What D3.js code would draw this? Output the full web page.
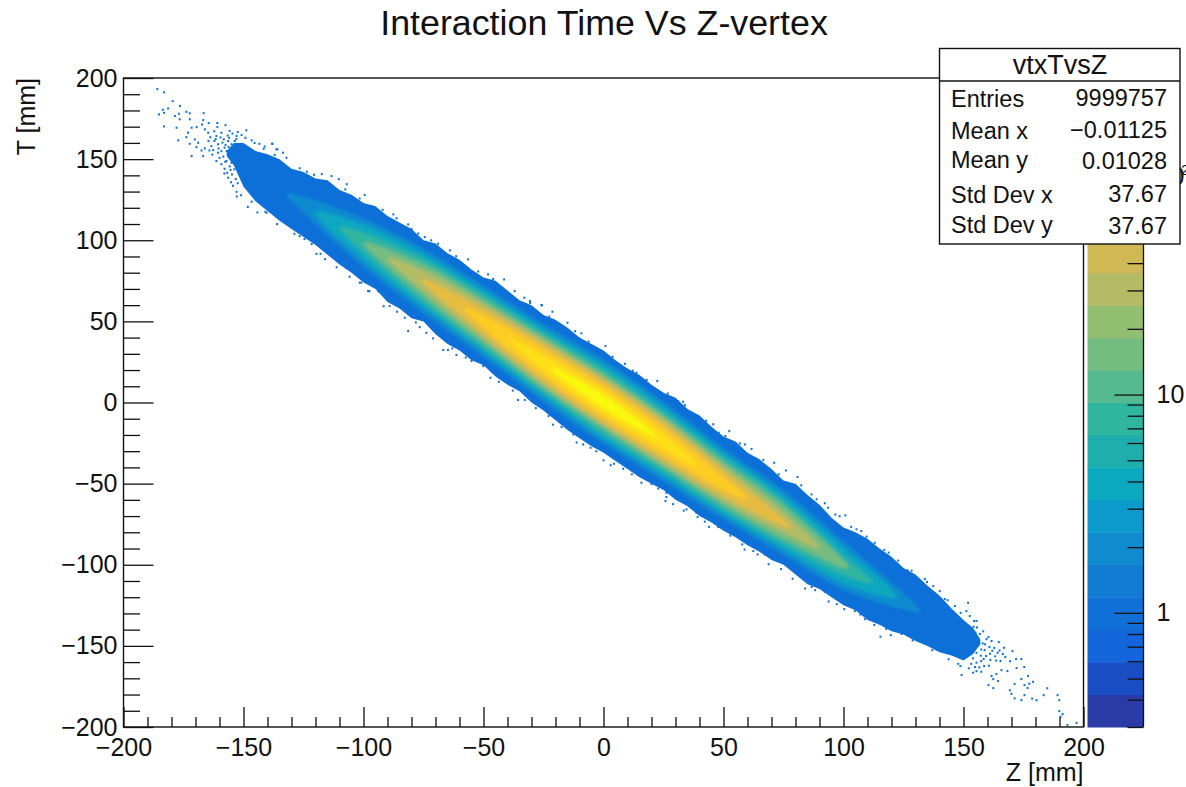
<!DOCTYPE html>
<html>
<head>
<meta charset="utf-8">
<script src="https://cdn.jsdelivr.net/npm/d3@7"></script>
<style>
  html, body { margin: 0; padding: 0; background: #fff; }
  svg { display: block; }
  text { font-family: "Liberation Sans", Arial, sans-serif; fill: #111; }
</style>
</head>
<body>
<div id="container"></div>
<script>
"use strict";

// Colour bar steps, bottom to top.
const paletteColors = [
  "#2a3aa6", "#1a4cc4", "#1465dc", "#1170d8", "#127bd2",
  "#118bcf", "#0c9acb", "#0ca8c0", "#1eafad", "#30b5a0",
  "#55ba90", "#74bc80", "#92be72", "#b3bb65", "#d0b955",
  "#e6bc40", "#f5c42f", "#fccc22", "#fddf18", "#f8f90f",
];
const paletteMin = 0.3;
const paletteMax = 282;
const paletteMinorTicks = [0.3, 0.4, 0.5, 0.6, 0.7, 0.8, 0.9, 2, 3, 4, 5, 6, 7, 8, 9, 20, 30, 40, 50, 60, 70, 80, 90, 200];
const paletteMajorTicks = [1, 10, 100];

// Along-the-ridge stations, z in mm.
const stationZ = [-150, -125, -100, -75, -50, -25, 0, 25, 50, 75, 100, 125, 150];
const ridgeT = [145.5, 122, 98.5, 75, 50, 24.5, 0.5, -24, -50, -74, -100.5, -122.5, -146.5];

// Outer edge of the filled band, T in mm.
const outerZ = [
  -157, -154, -150, -145, -140, -135, -130, -125, -120, -115, -110, -105, -100, -95, -90, -85, -80,
  -75, -70, -65, -60, -55, -50, -45, -40, -35, -30, -25, -20, -15, -10, -5, 0, 5, 10, 15, 20, 25,
  30, 35, 40, 45, 50, 55, 60, 65, 70, 75, 80, 85, 90, 95, 100, 105, 110, 115, 120, 125, 130, 135,
  140, 145, 150, 154, 157,
];
const outerTop = [
  155, 160, 160, 155, 153, 150, 144, 142, 138, 137, 131, 128, 123, 121, 115, 111, 107,
  100, 98, 92, 88, 82, 77, 75, 69, 63, 60, 54, 51, 46, 40, 36, 32, 26, 21, 17, 11, 6,
  3, -4, -8, -15, -21, -24, -31, -35, -41, -48, -50, -57, -63, -71, -77, -80, -84, -90, -95, -102, -106, -113,
  -119, -127, -134, -139, -146,
];
const outerBottom = [
  152, 146, 133, 124, 118, 112, 107, 102, 97, 91, 85, 80, 74, 70, 62, 58, 52,
  50, 42, 36, 32, 26, 23, 16, 11, 7, 0, -5, -11, -17, -22, -27, -31, -36, -41, -46, -50, -54,
  -60, -64, -70, -74, -79, -83, -88, -92, -97, -100, -106, -112, -115, -120, -125, -128, -134, -137, -141, -143, -147, -150,
  -154, -156, -159, -155, -149,
];

// Half width in T (mm) of each colour step around the ridge.
const halfStep5 = [0, 5, 15, 20, 22, 24, 26, 24.5, 22, 20, 15, 5, 0];
const halfStep7 = [0, 0, 11, 16.5, 19, 21, 23, 21.5, 19, 16.5, 11, 0, 0];
const halfStep9 = [0, 0, 6, 13.5, 16.5, 18.5, 20, 18.5, 16.5, 13.5, 6, 0, 0];
const halfStep11 = [0, 0, 0, 10, 13.5, 16, 17, 16, 13.5, 10.5, 0, 0, 0];
const halfStep13 = [0, 0, 0, 6.5, 11, 14, 15, 14, 11, 6.5, 0, 0, 0];
const halfStep15 = [0, 0, 0, 0, 8, 11.5, 13, 11.5, 8, 0, 0, 0, 0];
const halfStep17 = [0, 0, 0, 0, 4, 8.5, 10, 8.5, 4, 0, 0, 0, 0];
const halfStep18 = [0, 0, 0, 0, 0, 4.5, 7, 4.5, 0, 0, 0, 0, 0];
const halfStep19 = [0, 0, 0, 0, 0, 0, 4, 0, 0, 0, 0, 0, 0];

// Where each colour step closes along the ridge, z in mm.
const stepColorIndex = [5, 7, 9, 11, 13, 15, 17, 18, 19];
const stepStartZ = [-132, -120, -110, -100, -90, -76, -58, -40, -22];
const stepEndZ = [132, 122, 112, 102, 90, 78, 60, 40, 22];

// Single filled bins outside the band, [z, T] in mm.
const tailUpperLeft = [
  [-186.3, 193.8], [-183.5, 191.8], [-179.9, 186.4], [-176.9, 183.4], [-181.8, 181.9], [-184, 181.1],
  [-185.6, 178.2], [-183.5, 179.2], [-179, 177.2], [-177.3, 178.6], [-174.2, 179.8], [-172.8, 178.9],
  [-167, 179], [-177, 175.2], [-178.3, 170], [-183.5, 170.8], [-172.8, 175.2], [-167.2, 174.7],
  [-172, 170], [-169.9, 170.4], [-167.7, 172], [-164.9, 172.9], [-161.3, 172.9], [-157.9, 171.6],
  [-161.3, 170.4], [-166.5, 169], [-165.1, 166.9], [-173.5, 166.9], [-174.2, 164.2], [-172.8, 160.1],
  [-177.6, 162.2], [-170.7, 162.8], [-169.3, 160.7], [-170, 158], [-172, 152.5], [-167.2, 152.5],
  [-166.5, 157.3], [-167.9, 156], [-149.2, 168.4], [-141.3, 118.2], [-137.4, 118.7], [-158.3, 144.7],
  [-156.8, 139.2], [-161.7, 149.5], [-163.8, 158.7], [-161.7, 164.9], [-159.6, 166.9], [-156.2, 168],
  [-153.3, 164.9], [-151.2, 165.5], [-147, 162.2], [-143.8, 160.1], [-138.5, 160.1], [-136.3, 156.7],
  [-132.5, 151.5], [-165, 161.8], [-162.5, 161.8], [-161, 159.8], [-158.3, 157.7], [-159.6, 155.6],
  [-155.4, 159.8], [-154, 161.8], [-156.8, 161.8], [-161, 154.6], [-156, 153], [-159.6, 147.5],
  [-157.5, 149.5], [-155.4, 148.4], [-163, 156.2], [-160.4, 151.4], [-158.6, 162.8], [-164.2, 164.2],
  [-162.6, 167.8], [-160, 164], [-157, 165.2], [-155, 166.4], [-152.8, 167.4], [-149.6, 163.8],
  [-145.8, 160.6], [-141.6, 158.4], [-158.4, 141.8], [-155.6, 136.4], [-153.2, 127.6], [-151.4, 128.4],
  [-148.6, 121.2], [-144.6, 117.8], [-157.4, 155.6], [-158.8, 152.2], [-157.9, 159.4], [-156.4, 163.8],
  [-154.8, 156.8], [-155, 151.4], [-154.2, 144.4], [-156.2, 146.2], [-157.2, 142.2], [-155.2, 141.2],
  [-153.6, 138.4], [-154.8, 134.2], [-152.8, 135.8], [-160.8, 157.2], [-163.4, 153.4], [-162, 163],
  [-164.6, 156], [-159.2, 160.8], [-153.4, 163], [-158, 149], [-156.6, 158.2], [-155.8, 144],
];
const edgeUpper = [
  [-138.3, 160.1], [-136.7, 156.7], [-133.9, 154.6], [-137.4, 153.2], [-113.7, 140.2], [-110.7, 138.3],
  [-99.9, 128.5], [-107.4, 135.2], [-117.8, 141.4], [-124, 142.9], [-88, 116.6], [-97, 121.7],
  [-80.4, 107.5], [-74.9, 102.6], [-81.8, 110.4], [-69.3, 98.5], [-64.4, 94.4], [-56.8, 88.9],
  [-41.8, 76.5], [-48.5, 79.6], [-37.4, 69.3], [-31.1, 63.2], [-26.3, 60.7], [-31, 62],
  [-26, 60.5], [-21.7, 56.6], [-15.4, 49.8], [-9.6, 43.3], [0.4, 35.4], [8.5, 24.5],
  [13.4, 19], [22, 13.9], [30.7, 1.5], [39, -7.7], [45.3, -12.8], [32.8, 1.1],
  [52, -17], [50.4, -20], [58.5, -25.2], [61.3, -28], [70.7, -36.5], [75.6, -41.2],
  [80.4, -45.3], [86.3, -56], [93.2, -64.2], [100.4, -68.9], [91.8, -61.4], [98, -69.4],
  [105, -77.5], [107, -78.6], [112.6, -85.8], [118.4, -91.9], [126.3, -102.8], [133.5, -108.2],
  [130, -107.4], [137, -112.5], [139.7, -115.6], [141.8, -120.5], [146, -124.8], [151.5, -122.8],
  [150.8, -127.9], [152.2, -131], [155, -134], [-142, 157], [-127, 145], [-121, 141], [-108, 132],
  [-102, 126.4], [-92.4, 119.4], [-86.6, 114.2], [-77.6, 104.8], [-72.2, 100.6], [-61.8, 90.8],
  [-52.6, 81.4], [-46.4, 76.8], [-33.4, 65.2], [-23, 53.6], [-12.2, 44.6], [-6.6, 38.2],
  [3.4, 28.8], [11.8, 20.2], [17.6, 14.6], [26.4, 6.2], [33.6, -1], [42.4, -10.6],
  [47.6, -18], [56.4, -24.6], [66.2, -34.8], [72.6, -43.6], [82, -50.4], [88.4, -59],
  [96.2, -68.4], [102.8, -76], [109.2, -82], [116.6, -90.2], [122.4, -96.8], [128, -103],
  [134.4, -110], [143, -121.2], [148.4, -129],
];
const edgeLower = [
  [-147, 124.4], [-153.3, 130.5], [-140, 119.9], [-140.8, 117.6], [-133.3, 112.5], [-127, 103.2],
  [-125, 101.4], [-122, 98.3], [-120, 92.3], [-118.3, 92.3], [-113.7, 94], [-107.5, 83.7],
  [-102, 74.5], [-97.9, 69.3], [-102.6, 78.6], [-101.3, 74.5], [-98.5, 69.3], [-94.3, 69.3],
  [-89.5, 60.1], [-83.2, 52.9], [-81.8, 44.7], [-74.2, 43.6], [-77, 47.1], [-67.2, 33],
  [-65.2, 33], [-61.7, 29.9], [-55.4, 26.2], [-50.5, 23.1], [-47.5, 15.9], [-41.3, 14.9],
  [-36, 2.2], [-33.2, 2.2], [-23.3, -7.7], [-17.9, -14.5], [-13, -19], [-8.9, -25.2],
  [-5.8, -27.2], [-0.4, -35], [4, -37.1], [7.8, -40.2], [15.4, -48.8], [19.6, -49.6],
  [25.8, -55], [25.8, -57.6], [25.4, -60.1], [34.2, -65.2], [38.3, -67.3], [38.8, -70],
  [41.8, -72.8], [47.4, -76.1], [57.4, -86.8], [62, -90.9], [63.8, -93], [66.8, -93],
  [86.3, -113.1], [87.8, -115], [91.8, -116], [96.8, -123.6], [99.9, -126.7], [104.3, -127.9],
  [108.5, -132.9], [112.4, -136.5], [115, -143.7], [119.3, -142.7], [123.8, -142], [-136.4, 110.6],
  [-129.2, 104.6], [-116.4, 89], [-111.6, 84], [-106.2, 78.2], [-92, 60], [-86.4, 56.6],
  [-78.6, 50], [-71.4, 40.2], [-63.4, 34], [-57.8, 28.4], [-44, 13.4], [-38.2, 8],
  [-28.6, -2.8], [-21.4, -13], [-11.6, -24], [-3.4, -29.4], [2.6, -38], [11.4, -43.6],
  [22.4, -52.4], [28.6, -62], [33, -66], [43.6, -76], [52.4, -81.4], [58.4, -90],
  [68.4, -99], [73.6, -102], [78.4, -108], [83.6, -114], [93.4, -122], [106.6, -130],
  [117.4, -139], [128.4, -146], [136.6, -152], [143.4, -157.6], [147.4, -160.4],
];
const tailLowerRight = [
  [154, -134], [160, -143.9], [161.3, -146.4], [164.3, -147], [166.5, -150.5], [170, -152.6],
  [163.8, -153.6], [165, -158.7], [171.5, -157.5], [173.7, -157.5], [174.9, -162.4], [167.9, -164.9],
  [171.7, -163], [176.5, -167.9], [173.7, -169.8], [178.6, -171.5], [170.9, -172.9], [175, -173.5],
  [177, -172.7], [176.3, -175.3], [184.5, -175.5], [168.9, -176.7], [169.6, -178.9], [175, -179.7],
  [183, -179.7], [188.8, -179.7], [189.5, -182.8], [170.9, -181.7], [173.7, -182.8], [178.2, -181.9],
  [180, -182.8], [189.5, -189.5], [190.9, -191.4], [190, -193], [192.9, -198.2], [196.7, -196.9],
  [148.8, -167.3], [160, -173.5], [162, -175.4], [153.6, -165.9], [155, -164.9], [157, -165.3],
  [158.2, -161.8], [161.3, -167.9], [163.3, -166.7], [165.4, -164.3], [162, -169.8], [164, -171],
  [157, -158.7], [159, -155.6], [155, -159.7], [153.6, -157], [148.3, -161.8], [162.4, -150.6],
  [160.6, -154.2], [158.4, -152], [163.2, -158.4], [167, -156.2], [169, -158.8], [156.2, -162.6],
  [151.8, -163.2], [160.2, -161.6], [157.6, -147.8], [159.2, -145.2], [155.2, -138], [156.4, -142],
  [157.8, -140.4], [155.6, -145], [157, -151.6], [155.4, -149], [156.8, -155.4], [155, -153.6],
  [158.6, -148.4], [160.4, -150], [161.6, -152.4], [154.6, -141.2], [153.8, -137.6], [152.8, -160.4],
  [154.4, -162.4], [158, -157.4], [160.8, -158], [162.8, -155.8], [164.6, -152.2], [166, -154.4],
];

// Stats box rows.
const statLabels = ["Entries", "Mean x", "Mean y", "Std Dev x", "Std Dev y"];
const statValues = ["9999757", "\u22120.01125", "0.01028", "37.67", "37.67"];

const width = 1186;
const height = 787;
const frame = { left: 123.5, right: 1083.5, top: 78, bottom: 727 };
const bar = { left: 1087.5, right: 1143.5 };
const binZ = 0.8;
const binT = 1.3;

const x = d3.scaleLinear().domain([-200, 200]).range([frame.left, frame.right]);
const y = d3.scaleLinear().domain([-200, 200]).range([frame.bottom, frame.top]);
const colorAxisScale = d3.scaleLog().domain([paletteMin, paletteMax]).range([frame.bottom, frame.top]);
const barBand = d3.scaleBand().domain(d3.range(paletteColors.length)).range([frame.bottom, frame.top]);
const ridgeAt = d3.scaleLinear().domain(stationZ).range(ridgeT);

const svg = d3.select("#container").append("svg").attr("width", width).attr("height", height);

const defs = svg.append("defs");
defs.append("filter").attr("id", "soft").append("feGaussianBlur").attr("stdDeviation", 1.4);
defs.append("filter").attr("id", "softEdge").append("feGaussianBlur").attr("stdDeviation", 0.45);
defs.append("filter").attr("id", "softDot").append("feGaussianBlur").attr("stdDeviation", 0.3);

// Filled band, outer edge first.
svg.append("path")
  .attr("filter", "url(#softEdge)")
  .attr("fill", paletteColors[3])
  .attr("d", d3.area()
    .x((d, i) => x(outerZ[i]))
    .y0((d, i) => y(outerBottom[i]))
    .y1((d, i) => y(outerTop[i]))(outerZ));

// Each colour step is a closed loop around the ridge.
const heat = svg.append("g").attr("filter", "url(#soft)");
const stepLine = d3.line()
  .x((d) => x(d[0]))
  .y((d) => y(d[1]))
  .curve(d3.curveCatmullRomClosed.alpha(0.5));

[halfStep5, halfStep7, halfStep9, halfStep11, halfStep13, halfStep15, halfStep17, halfStep18, halfStep19]
  .forEach((halves, k) => {
    const inside = stationZ.map((z, i) => i).filter((i) => halves[i] > 0);
    const upper = inside.map((i) => [stationZ[i], ridgeT[i] + halves[i]]);
    const lower = inside.map((i) => [stationZ[i], ridgeT[i] - halves[i]]).reverse();
    const loop = [
      [stepStartZ[k], ridgeAt(stepStartZ[k])],
      ...upper,
      [stepEndZ[k], ridgeAt(stepEndZ[k])],
      ...lower,
    ];
    heat.append("path").attr("fill", paletteColors[stepColorIndex[k]]).attr("d", stepLine(loop));
  });

// Lone bins around the band.
svg.append("g")
  .attr("filter", "url(#softDot)")
  .selectAll("rect")
  .data([...tailUpperLeft, ...edgeUpper, ...edgeLower, ...tailLowerRight])
  .enter()
  .append("rect")
  .attr("fill", paletteColors[3])
  .attr("x", (d) => x(d[0]))
  .attr("y", (d) => y(d[1]))
  .attr("width", x(binZ) - x(0))
  .attr("height", y(0) - y(binT));

// Frame.
svg.append("rect")
  .attr("x", frame.left).attr("y", frame.top)
  .attr("width", frame.right - frame.left).attr("height", frame.bottom - frame.top)
  .attr("fill", "none").attr("stroke", "#111").attr("stroke-width", 1.4);

const xMajor = d3.range(-200, 201, 50);
const yMajor = d3.range(-200, 201, 50);
const minorOf = (major) => d3.range(-200, 201, 10).filter((v) => !major.includes(v));

function styleAxis(g) {
  g.select(".domain").remove();
  g.selectAll("line").attr("stroke", "#111").attr("stroke-width", 1.3);
  g.selectAll("text").style("font-size", "25px").style("font-family", '"Liberation Sans", Arial, sans-serif');
}

// x axis, ticks point into the plot.
svg.append("g").attr("transform", `translate(0, ${frame.bottom})`)
  .call(d3.axisBottom(x).tickValues(minorOf(xMajor)).tickSize(-10).tickFormat(""))
  .call(styleAxis);
svg.append("g").attr("transform", `translate(0, ${frame.bottom})`)
  .call(d3.axisBottom(x).tickValues(xMajor).tickSize(-20).tickFormat(d3.format("d")))
  .call(styleAxis)
  .call((g) => g.selectAll("text").attr("dy", "0.72em").attr("y", 11));

// y axis.
svg.append("g").attr("transform", `translate(${frame.left}, 0)`)
  .call(d3.axisLeft(y).tickValues(minorOf(yMajor)).tickSize(-16.5).tickFormat(""))
  .call(styleAxis);
svg.append("g").attr("transform", `translate(${frame.left}, 0)`)
  .call(d3.axisLeft(y).tickValues(yMajor).tickSize(-30).tickFormat(d3.format("d")))
  .call(styleAxis)
  .call((g) => g.selectAll("text").attr("x", -6));

// Colour bar.
svg.append("g")
  .selectAll("rect")
  .data(paletteColors)
  .enter()
  .append("rect")
  .attr("x", bar.left)
  .attr("y", (d, i) => barBand(i))
  .attr("width", bar.right - bar.left)
  .attr("height", barBand.bandwidth() + 0.5)
  .attr("fill", (d) => d);

svg.append("line")
  .attr("x1", bar.right).attr("x2", bar.right)
  .attr("y1", frame.top).attr("y2", frame.bottom)
  .attr("stroke", "#111").attr("stroke-width", 1.3);

svg.append("g").attr("transform", `translate(${bar.right}, 0)`)
  .call(d3.axisRight(colorAxisScale).tickValues(paletteMinorTicks).tickSize(-16).tickFormat(""))
  .call(styleAxis);
svg.append("g").attr("transform", `translate(${bar.right}, 0)`)
  .call(d3.axisRight(colorAxisScale).tickValues(paletteMajorTicks).tickSize(-29)
    .tickFormat((d) => (d === 100 ? "10" : d3.format("d")(d))))
  .call(styleAxis)
  .call((g) => g.selectAll("text").attr("x", 13));

// Exponent of the top decade label, only its tail shows past the stats box.
svg.append("text")
  .attr("x", 1181).attr("y", colorAxisScale(100) - 1)
  .style("font-size", "15px")
  .text("2");

// Titles.
svg.append("text")
  .attr("x", 604).attr("y", 35)
  .attr("text-anchor", "middle")
  .style("font-size", "35.8px")
  .text("Interaction Time Vs Z-vertex");
svg.append("text")
  .attr("x", frame.right).attr("y", 781)
  .attr("text-anchor", "end")
  .style("font-size", "25px")
  .text("Z [mm]");
svg.append("text")
  .attr("transform", `translate(35, ${frame.top}) rotate(-90)`)
  .attr("text-anchor", "end")
  .style("font-size", "25px")
  .text("T [mm]");

// Stats box.
const stats = svg.append("g");
stats.append("rect")
  .attr("x", 939.5).attr("y", 48.5).attr("width", 240.5).attr("height", 195.5)
  .attr("fill", "#fff").attr("stroke", "#111").attr("stroke-width", 1.4);
stats.append("line")
  .attr("x1", 939.5).attr("x2", 1180).attr("y1", 81).attr("y2", 81)
  .attr("stroke", "#111").attr("stroke-width", 1.3);
stats.append("text")
  .attr("x", 1060).attr("y", 74)
  .attr("text-anchor", "middle")
  .style("font-size", "27px")
  .text("vtxTvsZ");

const labelBaselines = [107, 139, 168, 203, 233];
const valueBaselines = [106, 138, 169, 202, 234];
stats.selectAll(".stat-label")
  .data(statLabels)
  .enter()
  .append("text")
  .attr("class", "stat-label")
  .attr("x", 951)
  .attr("y", (d, i) => labelBaselines[i])
  .style("font-size", "23.5px")
  .text((d) => d);
stats.selectAll(".stat-value")
  .data(statValues)
  .enter()
  .append("text")
  .attr("class", "stat-value")
  .attr("x", 1167)
  .attr("y", (d, i) => valueBaselines[i])
  .attr("text-anchor", "end")
  .style("font-size", "23.5px")
  .text((d) => d);
</script>
</body>
</html>
